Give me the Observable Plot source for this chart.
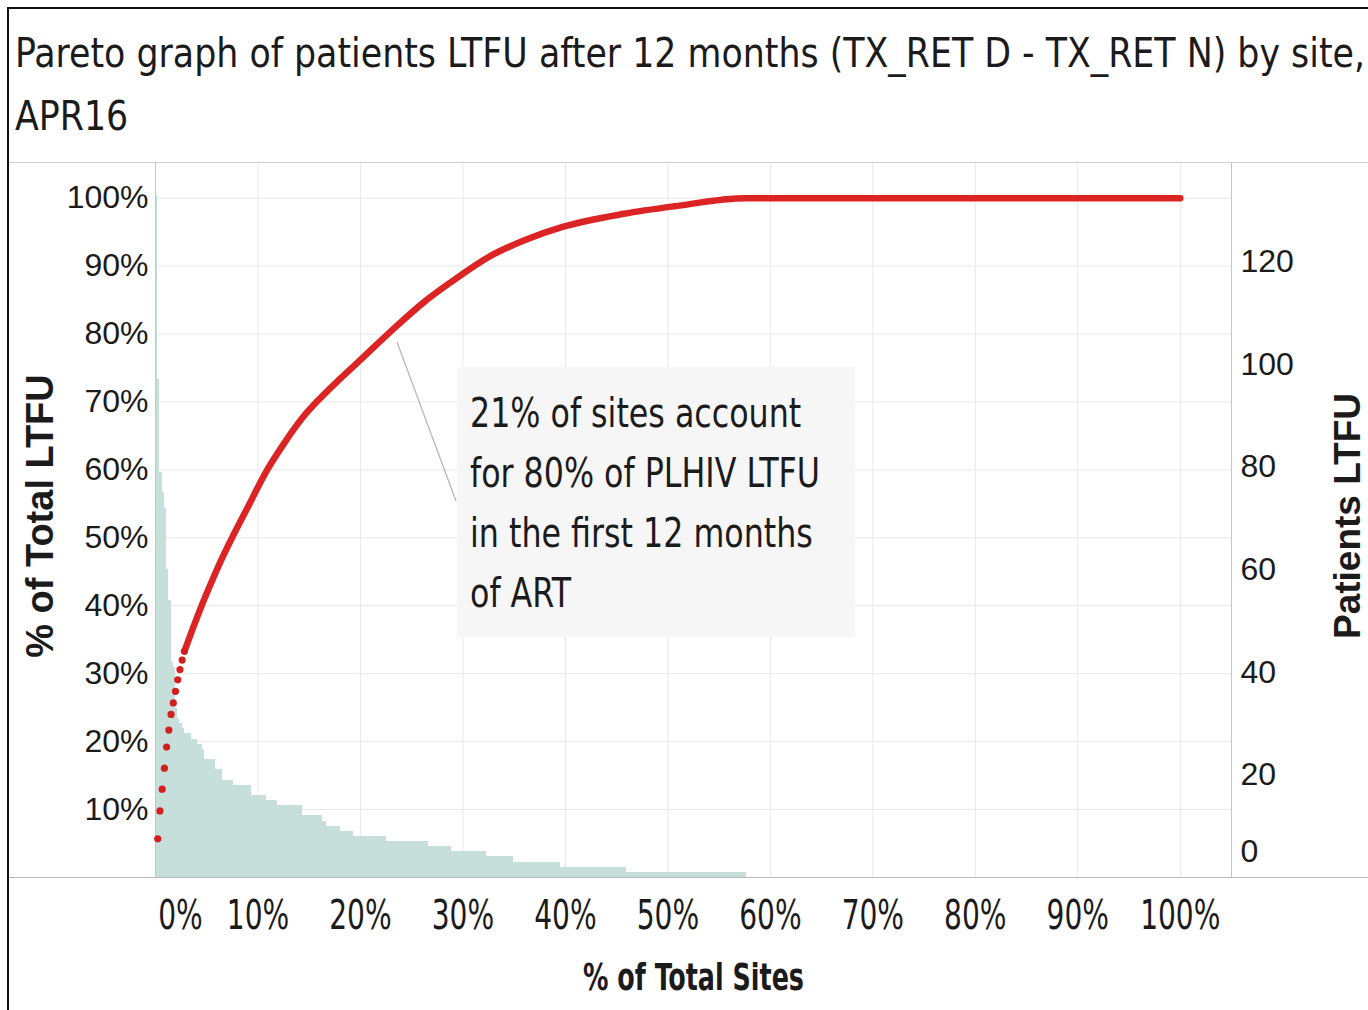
<!DOCTYPE html>
<html>
<head>
<meta charset="utf-8">
<script src="https://cdn.jsdelivr.net/npm/d3@7"></script>
<script src="https://cdn.jsdelivr.net/npm/@observablehq/plot@0.6"></script>
<style>
  html, body { margin: 0; padding: 0; background: #fff; width: 1368px; height: 1010px; overflow: hidden; }
  #page { position: relative; width: 1368px; height: 1010px; }
  #border { position: absolute; left: 7px; top: 7px; width: 1400px; height: 1100px; border-left: 2px solid #111; border-top: 2px solid #111; }
  #title { position: absolute; left: 15px; top: 22px; font-family: "DejaVu Sans Condensed", "Liberation Sans Narrow", sans-serif; font-size: 40px; line-height: 63px; color: #1b1b1b; white-space: nowrap; transform-origin: 0 0; }
  .hline { position: absolute; left: 9px; width: 1359px; height: 1px; }
  #chart { position: absolute; left: 0; top: 162px; }
  #note { position: absolute; left: 457px; top: 367px; width: 398px; height: 270px; background: #f6f6f6; }
  #noteText { position: absolute; left: 13px; top: 16px; font-family: "DejaVu Sans Condensed", "Liberation Sans Narrow", sans-serif; font-size: 41px; line-height: 60px; color: #1b1b1b; white-space: nowrap; transform-origin: 0 0; }
  #pointer { position: absolute; left: 0; top: 0; }
</style>
</head>
<body>
<div id="page">
  <div id="chart"></div>
  <div id="border"></div>
  <div class="hline" style="top:162px;background:#d0d0d0"></div>
  <div class="hline" style="top:877px;background:#b8b8b8"></div>
  <div id="title"><span id="t1">Pareto graph of patients LTFU after 12 months (TX_RET D - TX_RET N) by site,</span><br><span>APR16</span></div>
  <svg id="pointer" width="1368" height="1010"><line x1="397" y1="342" x2="456" y2="501" stroke="#b4b4b4" stroke-width="1.2"/></svg>
  <div id="note"><div id="noteText"><span>21% of sites account</span><br><span id="n2">for 80% of PLHIV LTFU</span><br><span>in the first 12 months</span><br><span>of ART</span></div></div>
</div>
<script>
// ---- data ----
const totalSites = 461;               // all sites (those after the bars have 0 LTFU)
// Patients LTFU per site, sorted descending (non-zero sites only)
const siteLTFU = [
  133, 97, 79, 75, 72, 60, 54, 42, 41, 33, 31, 30, 29,
  28, 28, 28, 27, 27, 27, 26, 26, 25, 23, 23, 23, 23, 23, 21, 21, 21,
  19, 19, 19, 19, 19, 18, 18, 18, 18, 18, 18, 18, 18,
  16, 16, 16, 16, 16, 16, 16, 15, 15, 15, 15, 15,
  14, 14, 14, 14, 14, 14, 14, 14, 14, 14, 14,
  12, 12, 12, 12, 12, 12, 12, 12, 12, 11, 11,
  10, 10, 10, 10, 10, 10, 9, 9, 9, 9, 9, 9,
  8, 8, 8, 8, 8, 8, 8, 8, 8, 8, 8, 8, 8, 8, 8,
  7, 7, 7, 7, 7, 7, 7, 7, 7, 7, 7, 7, 7, 7, 7, 7, 7, 7, 7,
  6, 6, 6, 6, 6, 6, 6, 6, 6, 6,
  5, 5, 5, 5, 5, 5, 5, 5, 5, 5, 5, 5, 5, 5, 5, 5,
  4, 4, 4, 4, 4, 4, 4, 4, 4, 4, 4, 4,
  3, 3, 3, 3, 3, 3, 3, 3, 3, 3, 3, 3, 3, 3, 3, 3, 3, 3, 3, 3, 3,
  2, 2, 2, 2, 2, 2, 2, 2, 2, 2, 2, 2, 2, 2, 2, 2, 2, 2, 2, 2, 2, 2, 2, 2, 2, 2, 2, 2, 2, 2,
  1, 1, 1, 1, 1, 1, 1, 1, 1, 1, 1, 1, 1, 1, 1, 1, 1, 1, 1, 1, 1, 1, 1, 1, 1, 1, 1,
  1, 1, 1, 1, 1, 1, 1, 1, 1, 1, 1, 1, 1, 1, 1, 1, 1, 1, 1, 1, 1, 1, 1, 1, 1, 1, 1
];
// Cumulative % of total LTFU for the first sites (separate dots)
const headCumPct = [5.7, 9.8, 13.0, 16.1, 19.2, 21.7, 24.0, 25.7, 27.4, 29.1, 30.6, 32.0, 33.3];
// Cumulative curve: % of total sites vs % of total LTFU
const curveSitesPct = [2.82, 3.5, 4.5, 5.5, 6.5, 7.5, 8.9, 10.9, 12.5, 14.3, 16.1, 18.0, 20.0, 23.25, 26.2, 28.8, 32.7, 36.0, 39.8, 45.7, 50.6, 57.6, 100];
const curveLtfuPct  = [33.3, 36.1, 40.0, 43.6, 47.0, 50.1, 54.2, 60.0, 63.8, 67.6, 70.6, 73.4, 76.2, 80.8, 84.7, 87.6, 91.5, 93.8, 95.8, 97.7, 98.8, 100, 100];
// Axes
const xTicks = [0, 10, 20, 30, 40, 50, 60, 70, 80, 90, 100];
const leftTicks = [10, 20, 30, 40, 50, 60, 70, 80, 90, 100];
const rightTicks = [0, 20, 40, 60, 80, 100, 120];
const xMax = 105, leftMax = 105.25, rightMax = 139.4;

// ---- build ----
const K = leftMax / rightMax;   // left-axis units per patient
const bars = siteLTFU.map((v, i) => ({x1: i / totalSites * 100, x2: (i + 1) / totalSites * 100, y: v * K}));
const head = headCumPct.map((p, i) => ({x: (i + 1) / totalSites * 100, y: p}));
const curve = curveSitesPct.map((s, i) => ({x: s, y: curveLtfuPct[i]}));

const ARIAL = "'Liberation Sans', Arial, sans-serif";
const NARROW = "'DejaVu Sans Condensed', 'Liberation Sans Narrow', sans-serif";
const RED = "#dc2424";
const GRID = "#e8e8e8";
const X_TITLE = "% of Total Sites";

const chart = Plot.plot({
  width: 1368, height: 848,
  marginTop: 0, marginLeft: 155, marginRight: 137, marginBottom: 133,
  x: {domain: [0, xMax], axis: null},
  y: {domain: [0, leftMax], axis: null},
  style: {background: "transparent", color: "#1b1b1b"},
  marks: [
    Plot.gridX(xTicks.filter(d => d > 0), {stroke: GRID, strokeOpacity: 1}),
    Plot.gridY(leftTicks, {stroke: GRID, strokeOpacity: 1}),
    Plot.rect(bars, {x1: "x1", x2: "x2", y1: 0, y2: "y", fill: "#c6dfdb", shapeRendering: "crispEdges"}),
    Plot.ruleX([0, xMax], {stroke: "#c6c6c6"}),
    Plot.line(curve, {x: "x", y: "y", stroke: RED, strokeWidth: 6.5, curve: "monotone-x", strokeLinecap: "round", strokeLinejoin: "round"}),
    Plot.dot(head, {x: "x", y: "y", r: 3.6, fill: "#d41f1f"}),
    Plot.axisY(leftTicks, {anchor: "left", tickSize: 0, tickPadding: 7, tickFormat: d => d + "%", fontSize: 32, fontFamily: ARIAL, label: null}),
    Plot.axisY(rightTicks.filter(d => d > 0).map(d => d * K), {anchor: "right", tickSize: 0, tickPadding: 9, tickFormat: d => String(Math.round(d / K)), fontSize: 32, fontFamily: ARIAL, label: null}),
    Plot.axisY([0], {anchor: "right", tickSize: 0, tickPadding: 9, dy: -26, tickFormat: d => String(d), fontSize: 32, fontFamily: ARIAL, label: null}),
    Plot.axisX(xTicks.filter(d => d > 0), {anchor: "bottom", tickSize: 0, tickPadding: 23, tickFormat: d => d + "%", fontSize: 40, fontFamily: NARROW, label: null}),
    Plot.axisX([0], {anchor: "bottom", tickSize: 0, tickPadding: 23, dx: 25, tickFormat: d => d + "%", fontSize: 40, fontFamily: NARROW, label: null}),
    Plot.text([X_TITLE], {frameAnchor: "bottom", lineAnchor: "middle", dy: 100, text: d => d, fontSize: 38, fontWeight: "bold", fontFamily: NARROW, fill: "#1b1b1b"}),
    Plot.text(["% of Total LTFU"], {frameAnchor: "left", textAnchor: "middle", rotate: -90, dx: -115, dy: -4, text: d => d, fontSize: 38, fontWeight: "bold", fontFamily: ARIAL, fill: "#1b1b1b"}),
    Plot.text(["Patients LTFU"], {frameAnchor: "right", textAnchor: "middle", rotate: -90, dx: 117, dy: -4, text: d => d, fontSize: 37, fontWeight: "bold", fontFamily: ARIAL, fill: "#1b1b1b"})
  ]
});
document.getElementById("chart").appendChild(chart);

// condense narrow-font SVG texts horizontally (the reference font is condensed)
function condenseEl(t, factor) {
  const w = t.getComputedTextLength();
  t.setAttribute("textLength", (w * factor).toFixed(1));
  t.setAttribute("lengthAdjust", "spacingAndGlyphs");
}
chart.querySelectorAll('g[aria-label="x-axis tick label"] text').forEach(t => condenseEl(t, 0.78));
chart.querySelectorAll("text").forEach(t => {
  if (t.textContent === X_TITLE) condenseEl(t, 221 / t.getComputedTextLength());
});

// condense HTML blocks to the reference widths
function fitX(el, probe, target) {
  const w = probe.getBoundingClientRect().width;
  el.style.transform = "scaleX(" + (target / w) + ")";
}
fitX(document.getElementById("title"), document.getElementById("t1"), 1350);
fitX(document.getElementById("noteText"), document.getElementById("n2"), 350);
</script>
</body>
</html>
